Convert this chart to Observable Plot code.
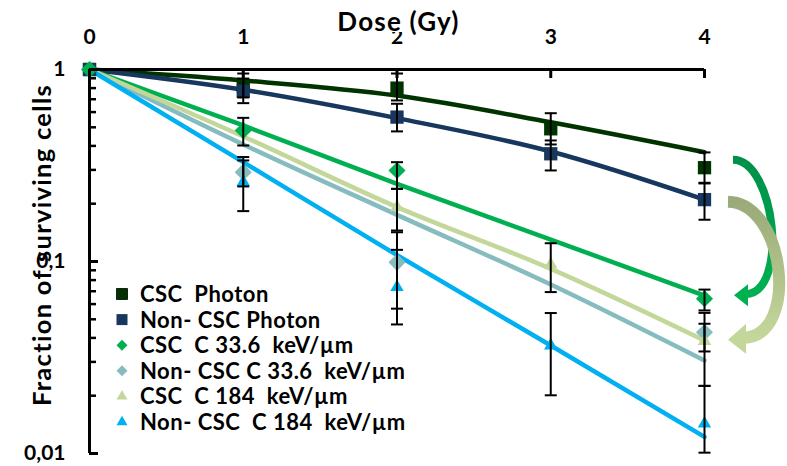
<!DOCTYPE html>
<html><head><meta charset="utf-8">
<script src="https://cdn.jsdelivr.net/npm/d3@7"></script>
<script src="https://cdn.jsdelivr.net/npm/@observablehq/plot@0.6"></script>
<style>body{margin:0;background:#fff;} #chart{width:787px;height:466px;}</style>
</head><body><div id="chart"></div>
<script>
// ---- data ----
const doses = [0, 1, 2, 3, 4];
const seriesNames = ["CSC  Photon", "Non- CSC Photon", "CSC  C 33.6  keV/µm", "Non- CSC C 33.6  keV/µm", "CSC  C 184  keV/µm", "Non- CSC  C 184  keV/µm"];
const seriesColors = ["#003300", "#17375E", "#00B050", "#86BCC0", "#C4D79B", "#00B0F0"];
const seriesSymbols = ["square", "square", "diamond2", "diamond2", "triangle", "triangle"];
// fitted survival curves, read at each dose
const fitCSCPhoton    = [1, 0.877, 0.732, 0.531, 0.371];
const fitNonCSCPhoton = [1, 0.784, 0.558, 0.374, 0.210];
const fitCSCC336      = [1, 0.511, 0.254, 0.130, 0.0665];
const fitNonCSCC336   = [1, 0.407, 0.175, 0.0759, 0.0305];
const fitCSCC184      = [1, 0.448, 0.192, 0.0916, 0.0388];
const fitNonCSCC184   = [1, 0.329, 0.108, 0.0365, 0.0122];
// measured points and error bar ends
const ptCSCPhoton    = [1, 0.825, 0.80, 0.491, 0.308];
const loCSCPhoton    = [null, 0.715, 0.69, 0.407, 0.255];
const hiCSCPhoton    = [null, 0.953, 0.953, 0.592, 0.37];
const ptNonCSCPhoton = [1, 0.77, 0.565, 0.364, 0.21];
const loNonCSCPhoton = [null, 0.668, 0.476, 0.298, 0.165];
const hiNonCSCPhoton = [null, 0.897, 0.663, 0.427, 0.257];
const ptCSCC336      = [1, 0.481, 0.298, null, 0.064];
const loCSCC336      = [null, 0.402, 0.239, null, 0.0556];
const hiCSCC336      = [null, 0.56, 0.329, null, 0.0714];
const ptNonCSCC336   = [null, 0.292, 0.099, null, 0.0428];
const loNonCSCC336   = [null, 0.246, 0.0568, null, 0.034];
const hiNonCSCC336   = [null, 0.35, 0.142, null, 0.054];
const ptCSCC184      = [null, null, 0.192, 0.0965, 0.0385];
const loCSCC184      = [null, null, 0.145, 0.0693, 0.0225];
const hiCSCC184      = [null, null, 0.239, 0.1245, 0.0474];
const ptNonCSCC184   = [null, 0.259, 0.0735, 0.0365, 0.0143];
const loNonCSCC184   = [null, 0.183, 0.047, 0.0201, 0.0101];
const hiNonCSCC184   = [null, 0.336, 0.115, 0.0539, 0.0225];
// ticks
const xTicks = [0, 1, 2, 3, 4];
const yMajor = [1, 0.1, 0.01];
const yTickLabels = ["1", "0,1", "0,01"];
const yMinor = [0.02,0.03,0.04,0.05,0.06,0.07,0.08,0.09,0.2,0.3,0.4,0.5,0.6,0.7,0.8,0.9];
const xTitle = "Dose (Gy)";
const yTitle = "Fraction of surviving cells";

// ---- build tables ----
const fits = [fitCSCPhoton, fitNonCSCPhoton, fitCSCC336, fitNonCSCC336, fitCSCC184, fitNonCSCC184];
const pts = [ptCSCPhoton, ptNonCSCPhoton, ptCSCC336, ptNonCSCC336, ptCSCC184, ptNonCSCC184];
const los = [loCSCPhoton, loNonCSCPhoton, loCSCC336, loNonCSCC336, loCSCC184, loNonCSCC184];
const his = [hiCSCPhoton, hiNonCSCPhoton, hiCSCC336, hiNonCSCC336, hiCSCC184, hiNonCSCC184];
const fitData = [], pointData = [];
seriesNames.forEach((name, i) => {
  doses.forEach((d, j) => {
    fitData.push({idx: i, dose: d, value: fits[i][j]});
    if (pts[i][j] != null) pointData.push({idx: i, dose: d, value: pts[i][j], lo: los[i][j], hi: his[i][j]});
  });
});
const errData = pointData.filter(d => d.lo != null);

const W = 787, H = 466, mL = 89, mR = 83, mT = 69, mB = 13;
const plotW = W - mL - mR, plotH = H - mT - mB;
const markerR = [7.5, 7.5, 7.7, 7.7, 5, 5];
const capSymbol = {draw(ctx) { ctx.moveTo(-6, 0); ctx.lineTo(6, 0); }};

const marks = [];
seriesNames.forEach((n, i) => marks.push(Plot.line(fitData.filter(d => d.idx === i),
  {x: "dose", y: "value", stroke: seriesColors[i], strokeWidth: 4.5, curve: "monotone-x"})));
seriesNames.forEach((n, i) => marks.push(Plot.dot(pointData.filter(d => d.idx === i),
  {x: "dose", y: "value", symbol: seriesSymbols[i], fill: seriesColors[i], stroke: "none", r: markerR[i]})));
marks.push(Plot.ruleX(errData, {x: "dose", y1: "lo", y2: "hi", stroke: "black", strokeWidth: 2}));
marks.push(Plot.dot(errData, {x: "dose", y: "lo", symbol: capSymbol, fill: "none", stroke: "black", strokeWidth: 2, r: 6}));
marks.push(Plot.dot(errData, {x: "dose", y: "hi", symbol: capSymbol, fill: "none", stroke: "black", strokeWidth: 2, r: 6}));
// axes
marks.push(Plot.ruleX([0], {stroke: "black", strokeWidth: 3}));
marks.push(Plot.ruleY([1], {stroke: "black", strokeWidth: 3}));
marks.push(Plot.tickX(xTicks, {x: d => d, insetBottom: plotH - 9, stroke: "black", strokeWidth: 3}));
marks.push(Plot.tickY(yMajor, {y: d => d, insetRight: plotW - 9, stroke: "black", strokeWidth: 3}));
marks.push(Plot.tickY(yMinor, {y: d => d, insetRight: plotW - 7, stroke: "black", strokeWidth: 2.5}));
marks.push(Plot.text(xTicks, {x: d => d, frameAnchor: "top", dy: -32, text: d => String(d), fontSize: 21, fontWeight: "bold", fill: "black", lineAnchor: "middle"}));
marks.push(Plot.text(yMajor, {y: d => d, frameAnchor: "left", dx: -24, textAnchor: "end", text: (d, i) => yTickLabels[i], fontSize: 21, fontWeight: "bold", fill: "black", lineAnchor: "middle"}));

const plot = Plot.plot({
  width: W, height: H, marginLeft: mL, marginRight: mR, marginTop: mT, marginBottom: mB,
  x: {domain: [0, 4], axis: null},
  y: {type: "log", domain: [0.01, 1], axis: null},
  style: {fontFamily: "Lato, sans-serif", background: "white", overflow: "visible"},
  marks
});
document.getElementById("chart").appendChild(plot);

// ---- annotations ----
const svg = d3.select(plot);
const xs = plot.scale("x"), ys = plot.scale("y");
const X = v => xs.apply(v), Y = v => ys.apply(v);

// title with white box
const tx = (X(0) + X(4)) / 2 + 2;
svg.append("rect").attr("x", tx - 66).attr("y", 8).attr("width", 132).attr("height", 24).attr("fill", "white");
svg.append("text").attr("x", tx).attr("y", 31).attr("text-anchor", "middle")
  .attr("font-size", 26).attr("font-weight", "bold").attr("letter-spacing", 1.2).attr("fill", "black").text(xTitle);
// y title
svg.append("text").attr("transform", `translate(51,${(Y(1) + Y(0.01)) / 2 - 16}) rotate(-90)`)
  .attr("text-anchor", "middle").attr("font-size", 25.5).attr("font-weight", "bold").attr("letter-spacing", 1.3)
  .attr("fill", "black").text(yTitle);

// legend
const legendSizes = [121, 121, 77, 77, 52, 52];
const legendTypes = [d3.symbolSquare, d3.symbolSquare, d3.symbolDiamond2, d3.symbolDiamond2, d3.symbolTriangle, d3.symbolTriangle];
const lg = svg.append("g").attr("text-anchor", "start");
seriesNames.forEach((n, i) => {
  const cy = 294 + i * 25.6;
  lg.append("path").attr("transform", `translate(122,${cy})`)
    .attr("d", d3.symbol(legendTypes[i], legendSizes[i])()).attr("fill", seriesColors[i])
    .attr("stroke", i === 0 ? "#000" : "none").attr("stroke-width", 0.8);
  lg.append("text").attr("x", 140).attr("y", cy).attr("dy", "0.36em").attr("text-anchor", "start")
    .attr("font-size", 22).attr("font-weight", "bold").attr("letter-spacing", 0.5).attr("fill", "black")
    .style("white-space", "pre").text(n);
});

// curved arrows
const defs = svg.append("defs");
function grad(id, c1, c2) {
  const g = defs.append("linearGradient").attr("id", id).attr("x1", 0).attr("y1", 0).attr("x2", 0).attr("y2", 1);
  g.append("stop").attr("offset", "0%").attr("stop-color", c1);
  g.append("stop").attr("offset", "100%").attr("stop-color", c2);
}
grad("ga1", "#00904A", "#00B050");
grad("ga2", "#9AAA78", "#C4D79B");
const x4 = X(4);
// arrow 1: from CSC photon to CSC C 33.6
{
  const y0 = Y(0.371) + 8, y1 = Y(0.064) - 3;
  svg.append("path").attr("d", `M${x4 + 29},${y0} C${x4 + 71},${y0} ${x4 + 86},${y1 - 2} ${x4 + 41},${y1 - 1}`)
    .attr("fill", "none").attr("stroke", "url(#ga1)").attr("stroke-width", 8);
  svg.append("path").attr("d", `M${x4 + 30},${y1} L${x4 + 44},${y1 - 11} L${x4 + 44},${y1 + 11} Z`).attr("fill", "#00B050");
}
// arrow 2: from Non-CSC photon to Non-CSC C 33.6
{
  const y0 = Y(0.21) + 2.5, y1 = Y(0.0428) + 8;
  svg.append("path").attr("d", `M${x4 + 24},${y0} C${x4 + 81},${y0 + 1} ${x4 + 96},${y1 - 4} ${x4 + 40},${y1 - 2}`)
    .attr("fill", "none").attr("stroke", "url(#ga2)").attr("stroke-width", 12);
  svg.append("path").attr("d", `M${x4 + 24},${y1} L${x4 + 42},${y1 - 16} L${x4 + 42},${y1 + 14} Z`).attr("fill", "#C4D79B");
}
</script></body></html>
